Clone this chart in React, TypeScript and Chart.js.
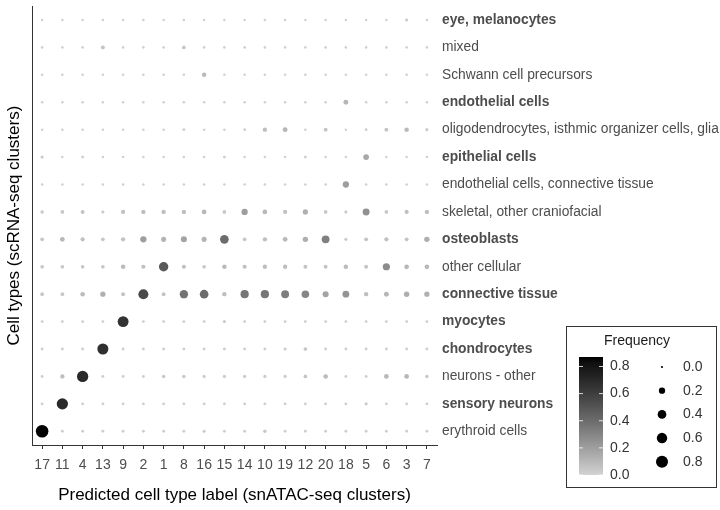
import React, { useEffect, useRef } from "react";
import { Chart, registerables } from "chart.js";
Chart.register(...registerables);

const clusterLabels = ["17", "11", "4", "13", "9", "2", "1", "8", "16", "15", "14", "10", "19", "12", "20", "18", "5", "6", "3", "7"];

const cellTypes = [
  "eye, melanocytes",
  "mixed",
  "Schwann cell precursors",
  "endothelial cells",
  "oligodendrocytes, isthmic organizer cells, glia",
  "epithelial cells",
  "endothelial cells, connective tissue",
  "skeletal, other craniofacial",
  "osteoblasts",
  "other cellular",
  "connective tissue",
  "myocytes",
  "chondrocytes",
  "neurons - other",
  "sensory neurons",
  "erythroid cells",
];

const boldCellTypes = [
  "eye, melanocytes",
  "endothelial cells",
  "epithelial cells",
  "osteoblasts",
  "connective tissue",
  "myocytes",
  "chondrocytes",
  "sensory neurons",
];

// Frequency per cluster (same order as clusterLabels)
const eyeMelanocytes = [0.01, 0.01, 0.01, 0.01, 0.01, 0.01, 0.01, 0.01, 0.01, 0.01, 0.01, 0.01, 0.01, 0.01, 0.01, 0.01, 0.01, 0.01, 0.03, 0.01];
const mixed = [0.01, 0.01, 0.01, 0.06, 0.01, 0.01, 0.01, 0.05, 0.01, 0.01, 0.01, 0.01, 0.01, 0.01, 0.01, 0.01, 0.01, 0.01, 0.01, 0.01];
const schwannPrecursors = [0.01, 0.01, 0.01, 0.01, 0.01, 0.01, 0.01, 0.01, 0.09, 0.01, 0.01, 0.01, 0.01, 0.01, 0.01, 0.01, 0.01, 0.01, 0.01, 0.01];
const endothelialCells = [0.01, 0.01, 0.01, 0.01, 0.01, 0.01, 0.01, 0.01, 0.01, 0.01, 0.01, 0.01, 0.01, 0.01, 0.01, 0.11, 0.01, 0.01, 0.01, 0.01];
const oligodendrocytesGlia = [0.01, 0.01, 0.01, 0.01, 0.01, 0.01, 0.01, 0.02, 0.01, 0.01, 0.02, 0.08, 0.11, 0.01, 0.06, 0.01, 0.02, 0.06, 0.09, 0.03];
const epithelialCells = [0.03, 0.01, 0.02, 0.01, 0.01, 0.01, 0.01, 0.01, 0.01, 0.02, 0.01, 0.01, 0.01, 0.02, 0.01, 0.01, 0.16, 0.01, 0.01, 0.01];
const endothelialConnective = [0.01, 0.01, 0.01, 0.01, 0.01, 0.01, 0.01, 0.01, 0.01, 0.01, 0.01, 0.01, 0.01, 0.01, 0.01, 0.2, 0.01, 0.01, 0.01, 0.01];
const skeletalCraniofacial = [0.04, 0.05, 0.06, 0.03, 0.07, 0.08, 0.08, 0.08, 0.1, 0.05, 0.2, 0.1, 0.07, 0.13, 0.05, 0.03, 0.25, 0.05, 0.07, 0.08];
const osteoblasts = [0.05, 0.1, 0.07, 0.05, 0.07, 0.2, 0.12, 0.18, 0.12, 0.4, 0.05, 0.08, 0.1, 0.14, 0.32, 0.03, 0.06, 0.07, 0.06, 0.14];
const otherCellular = [0.05, 0.05, 0.05, 0.05, 0.09, 0.07, 0.48, 0.07, 0.05, 0.09, 0.07, 0.08, 0.08, 0.06, 0.06, 0.09, 0.06, 0.27, 0.1, 0.1];
const connectiveTissue = [0.05, 0.05, 0.09, 0.13, 0.06, 0.55, 0.06, 0.37, 0.4, 0.08, 0.36, 0.36, 0.33, 0.3, 0.18, 0.24, 0.08, 0.11, 0.14, 0.13];
const myocytes = [0.02, 0.02, 0.02, 0.02, 0.65, 0.02, 0.02, 0.02, 0.02, 0.03, 0.02, 0.02, 0.02, 0.02, 0.02, 0.02, 0.02, 0.02, 0.02, 0.02];
const chondrocytes = [0.02, 0.02, 0.02, 0.67, 0.02, 0.02, 0.02, 0.02, 0.02, 0.02, 0.02, 0.02, 0.03, 0.05, 0.02, 0.02, 0.02, 0.02, 0.02, 0.02];
const neuronsOther = [0.02, 0.08, 0.7, 0.02, 0.02, 0.02, 0.04, 0.04, 0.03, 0.03, 0.03, 0.03, 0.03, 0.05, 0.09, 0.02, 0.02, 0.1, 0.1, 0.04];
const sensoryNeurons = [0.02, 0.7, 0.02, 0.02, 0.02, 0.02, 0.02, 0.02, 0.02, 0.02, 0.02, 0.02, 0.02, 0.02, 0.02, 0.02, 0.03, 0.02, 0.02, 0.02];
const erythroidCells = [0.87, 0.02, 0.02, 0.02, 0.02, 0.02, 0.02, 0.02, 0.03, 0.02, 0.02, 0.04, 0.02, 0.02, 0.02, 0.02, 0.02, 0.02, 0.02, 0.02];

const frequencyRows = [
  eyeMelanocytes, mixed, schwannPrecursors, endothelialCells, oligodendrocytesGlia,
  epithelialCells, endothelialConnective, skeletalCraniofacial, osteoblasts, otherCellular,
  connectiveTissue, myocytes, chondrocytes, neuronsOther, sensoryNeurons, erythroidCells,
];

const colorTicks = [0, 0.2, 0.4, 0.6, 0.8];
const sizeTicks = [0, 0.2, 0.4, 0.6, 0.8];
const colorMax = 0.87;

const FONT = "'Liberation Sans', Arial, Helvetica, sans-serif";

function greyFor(v: number): string {
  const t = Math.max(0, Math.min(1, v / colorMax));
  const L = 84.6 * (1 - t);
  const Y = L > 8 ? Math.pow((L + 16) / 116, 3) : L / 903.3;
  const s = Y <= 0.0031308 ? 12.92 * Y : 1.055 * Math.pow(Y, 1 / 2.4) - 0.055;
  const g = Math.round(Math.max(0, Math.min(1, s)) * 255);
  return `rgb(${g},${g},${g})`;
}

function radiusFor(v: number): number {
  return Math.sqrt(1.2 + 43.75 * Math.max(0, v));
}

const legendPlugin = {
  id: "freqLegend",
  afterDraw(chart: any) {
    const ctx = chart.ctx as CanvasRenderingContext2D;
    ctx.save();
    const bx = 566.5, by = 326.5, bw = 150, bh = 161;
    ctx.fillStyle = "#ffffff";
    ctx.fillRect(bx, by, bw, bh);
    ctx.strokeStyle = "#333333";
    ctx.lineWidth = 1;
    ctx.strokeRect(bx, by, bw, bh);
    ctx.fillStyle = "#1a1a1a";
    ctx.font = `14px ${FONT}`;
    ctx.textAlign = "center";
    ctx.textBaseline = "middle";
    ctx.fillText("Frequency", 637, 341);
    const barX = 579, barW = 24, barBottom = 475, barTop = 357;
    const grad = ctx.createLinearGradient(0, barBottom, 0, barTop);
    for (let i = 0; i <= 20; i++) {
      grad.addColorStop(i / 20, greyFor((colorMax * i) / 20));
    }
    ctx.fillStyle = grad;
    ctx.fillRect(barX, barTop, barW, barBottom - barTop);
    const pxPer = (barBottom - barTop) / colorMax;
    ctx.font = `14px ${FONT}`;
    ctx.textAlign = "left";
    colorTicks.forEach((v) => {
      const y = barBottom - v * pxPer;
      ctx.strokeStyle = "rgba(255,255,255,0.8)";
      ctx.beginPath();
      ctx.moveTo(barX, y);
      ctx.lineTo(barX + 4, y);
      ctx.moveTo(barX + barW - 4, y);
      ctx.lineTo(barX + barW, y);
      ctx.stroke();
      ctx.fillStyle = "#333333";
      ctx.fillText(v.toFixed(1), 610, y);
    });
    sizeTicks.forEach((v, i) => {
      const y = 367 + i * 23.7;
      ctx.fillStyle = "#000000";
      ctx.beginPath();
      ctx.arc(662, y, radiusFor(v), 0, Math.PI * 2);
      ctx.fill();
      ctx.fillStyle = "#333333";
      ctx.fillText(v.toFixed(1), 683, y);
    });
    ctx.restore();
  },
};

export default function App() {
  const canvasRef = useRef<HTMLCanvasElement | null>(null);

  useEffect(() => {
    document.body.style.margin = "0";
    const canvas = canvasRef.current;
    if (!canvas) return;
    const points: any[] = [];
    const colors: string[] = [];
    const radii: number[] = [];
    frequencyRows.forEach((row, ri) => {
      row.forEach((v, ci) => {
        points.push({ x: clusterLabels[ci], y: cellTypes[ri], v });
        colors.push(greyFor(v));
        radii.push(radiusFor(v));
      });
    });

    const zeroPad = (scale: any) => {
      scale.paddingTop = 0;
      scale.paddingBottom = 0;
      scale.paddingLeft = 0;
      scale.paddingRight = 0;
    };

    const chart = new Chart(canvas, {
      type: "bubble",
      data: {
        datasets: [
          {
            data: points,
            backgroundColor: colors,
            borderWidth: 0,
            radius: radii,
            hoverRadius: radii,
            xAxisID: "x",
            yAxisID: "y",
          } as any,
        ],
      },
      options: {
        animation: false,
        responsive: false,
        maintainAspectRatio: false,
        layout: { padding: { top: 3, left: 0, right: 0, bottom: 0 } },
        plugins: { legend: { display: false }, tooltip: { enabled: false } },
        scales: {
          x: {
            type: "category",
            labels: clusterLabels,
            position: "bottom",
            offset: true,
            grid: { display: true, drawOnChartArea: false, drawTicks: true, tickLength: 4, color: "#333333", offset: false },
            border: { display: true, color: "#333333", width: 1 },
            ticks: { color: "#4d4d4d", font: { family: FONT, size: 14 }, padding: 8, maxRotation: 0, autoSkip: false },
            title: {
              display: true,
              text: "Predicted cell type label (snATAC-seq clusters)",
              color: "#000000",
              font: { family: FONT, size: 17 },
              padding: { top: 4, bottom: 4 },
            },
            afterFit(scale: any) {
              scale.height = 65;
              zeroPad(scale);
            },
          } as any,
          y: {
            type: "category",
            labels: cellTypes,
            position: "right",
            offset: true,
            grid: { display: false, drawTicks: false },
            border: { display: false },
            ticks: {
              color: "#4d4d4d",
              padding: 5,
              autoSkip: false,
              font: (ctx: any) => {
                const label = cellTypes[ctx.index];
                return {
                  family: FONT,
                  size: 13.8,
                  weight: boldCellTypes.includes(label) ? "bold" : "normal",
                };
              },
            },
            afterFit(scale: any) {
              scale.width = 283;
              zeroPad(scale);
            },
          } as any,
          yLeft: {
            type: "category",
            labels: cellTypes,
            position: "left",
            offset: true,
            grid: { display: false, drawTicks: false },
            border: { display: true, color: "#333333", width: 1 },
            ticks: { display: false },
            title: {
              display: true,
              text: "Cell types (scRNA-seq clusters)",
              color: "#000000",
              font: { family: FONT, size: 17 },
              padding: { top: 4, bottom: 4 },
            },
            afterFit(scale: any) {
              scale.width = 32;
              zeroPad(scale);
            },
          } as any,
        },
      },
      plugins: [legendPlugin],
    });
    return () => chart.destroy();
  }, []);

  return (
    <div style={{ width: 720, height: 510, position: "relative" }}>
      <canvas ref={canvasRef} width={720} height={510} style={{ display: "block" }} />
    </div>
  );
}
